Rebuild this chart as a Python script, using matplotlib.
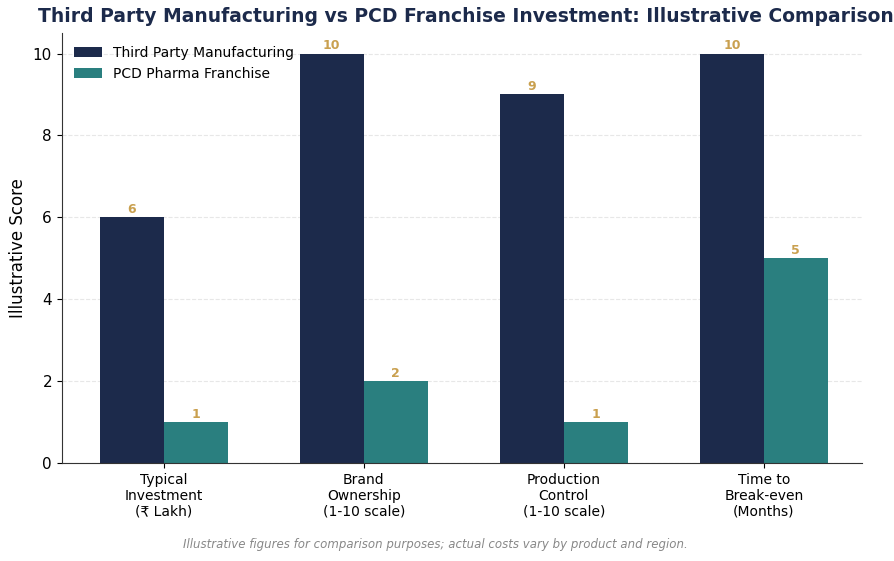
import numpy as np
import matplotlib
matplotlib.use("Agg")
import matplotlib.pyplot as plt

plt.rcParams['font.family'] = ['DejaVu Sans', 'Noto Sans']

categories = ['Typical\nInvestment\n(₹ Lakh)', 'Brand\nOwnership\n(1-10 scale)',
              'Production\nControl\n(1-10 scale)', 'Time to\nBreak-even\n(Months)']
third_party = [6, 10, 9, 10]
pcd = [1, 2, 1, 5]

navy = '#1c2a4b'
teal = '#2a7f7f'
gold = '#c9a04f'

fig = plt.figure(figsize=(8.95, 5.61), dpi=100)
ax = fig.add_axes([0.069, 0.175, 0.894, 0.766])

x = np.arange(len(categories))
w = 0.32
b1 = ax.bar(x - w/2, third_party, w, color=navy, label='Third Party Manufacturing')
b2 = ax.bar(x + w/2, pcd, w, color=teal, label='PCD Pharma Franchise')
for bars in (b1, b2):
    for bar in bars:
        ax.text(bar.get_x() + bar.get_width()/2, bar.get_height() + 0.03,
                f'{bar.get_height():g}', ha='center', va='bottom',
                fontsize=9, fontweight='bold', color=gold)

ax.set_xticks(x)
ax.set_xticklabels(categories, fontsize=10)
ax.set_ylim(0, 10.5)
ax.set_xlim(-0.51, 3.49)
ax.set_ylabel('Illustrative Score', fontsize=12)
ax.tick_params(axis='y', labelsize=11)
ax.grid(axis='y', linestyle='--', alpha=0.3)
ax.set_axisbelow(True)
ax.spines['top'].set_visible(False)
ax.spines['right'].set_visible(False)
for s in ('left', 'bottom'):
    ax.spines[s].set_color('#333333')
ax.legend(loc='upper left', frameon=False, fontsize=10)

fig.suptitle('Third Party Manufacturing vs PCD Franchise Investment: Illustrative Comparison',
             fontsize=13.5, fontweight='bold', color=navy, x=0.52, y=0.988)
fig.text(0.487, 0.024, 'Illustrative figures for comparison purposes; actual costs vary by product and region.',
         ha='center', fontsize=8.5, style='italic', color='#888888')

fig.savefig('out.png', dpi=100)
